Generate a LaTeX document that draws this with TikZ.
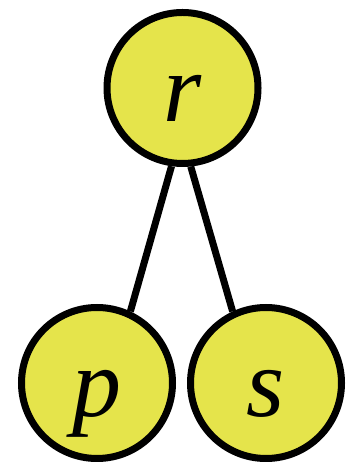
\documentclass[tikz,border=0pt]{standalone}
\usepackage{fontspec}
\newfontfamily\labelfont{Liberation Serif}[UprightFont=* Italic]
\definecolor{nodefill}{RGB}{229,228,75}
\begin{document}
\begin{tikzpicture}[x=1pt,y=1pt,
  treenode/.style={circle, draw=black, fill=nodefill, line width=7pt,
    minimum size=151pt, inner sep=0pt, text height=68pt, text depth=0pt,
    font=\labelfont\fontsize{98}{98}\selectfont},
  edge/.style={line width=7pt}]
\useasboundingbox (0,0) rectangle (351,462);
\node[treenode] (r) at (182.5,374) {r};
\node[treenode] (p) at (97,79) {p};
\node[treenode] (s) at (266,79) {s};
\draw[edge] (r.262) -- (p.65);
\draw[edge] (r.276) -- (s.115);
\end{tikzpicture}
\end{document}
